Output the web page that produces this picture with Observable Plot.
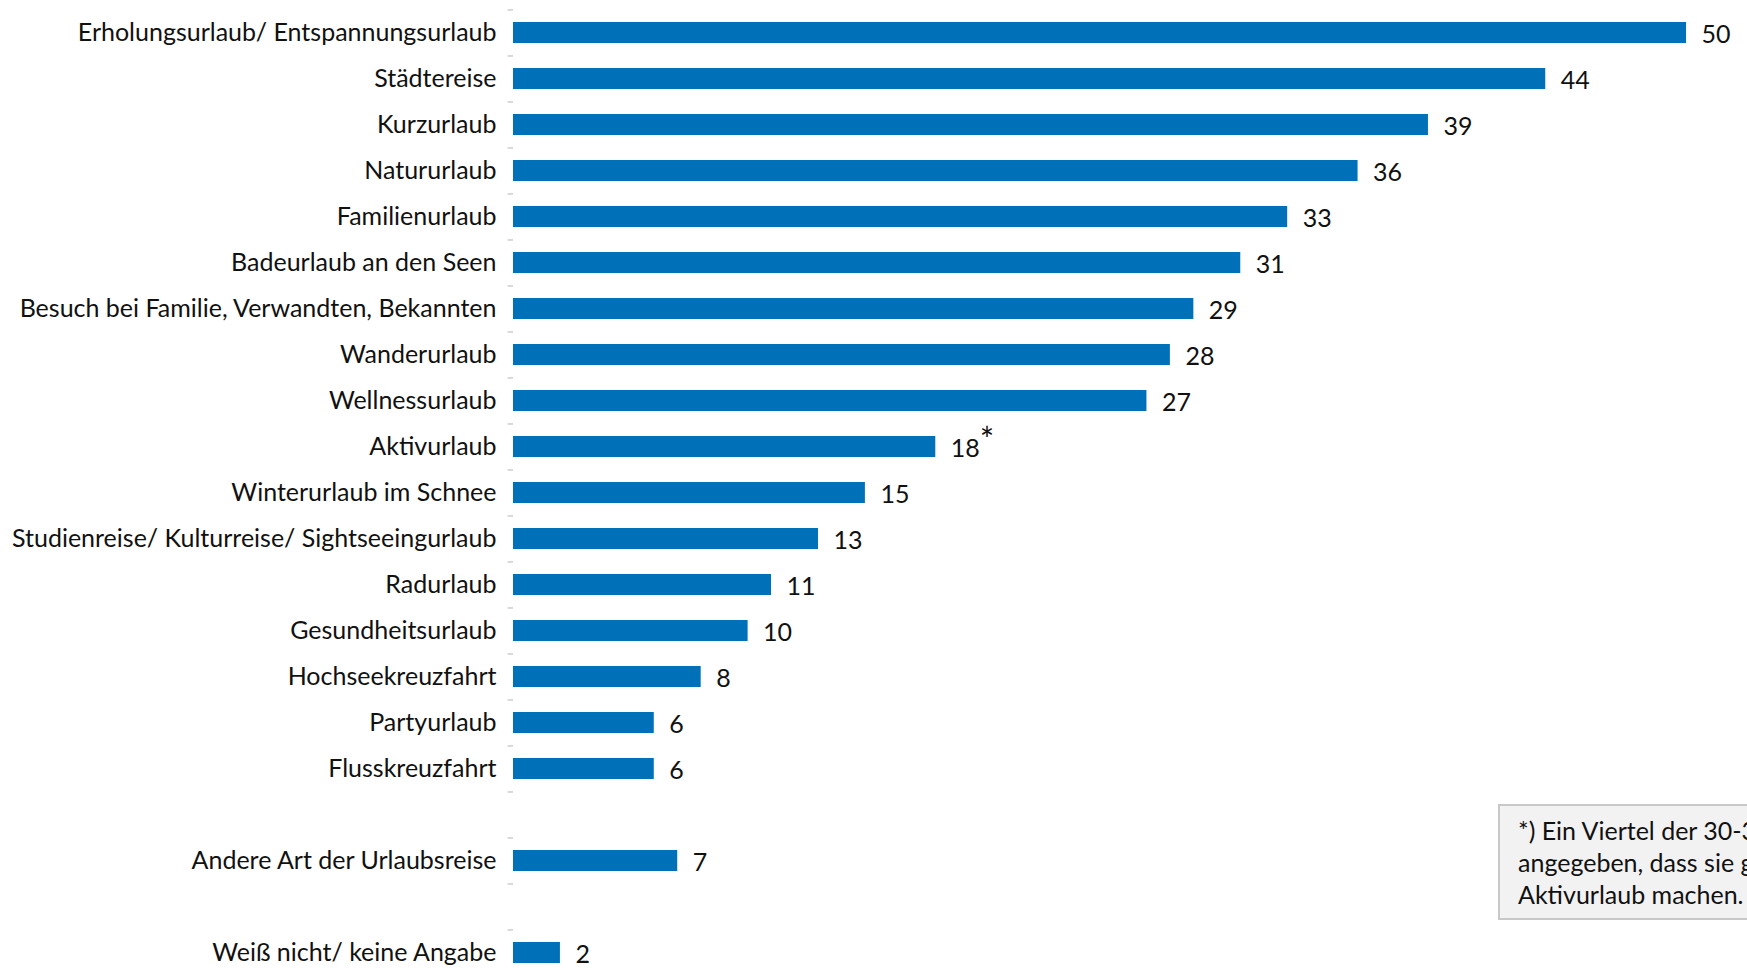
<!DOCTYPE html>
<html>
<head>
<meta charset="utf-8">
<script src="https://cdn.jsdelivr.net/npm/d3@7"></script>
<script src="https://cdn.jsdelivr.net/npm/@observablehq/plot@0.6"></script>
<style>
  html, body { margin: 0; padding: 0; background: #fff; overflow: hidden; }
  #wrap { position: relative; width: 1747px; height: 968px; overflow: hidden; }
  #note {
    position: absolute; left: 1498px; top: 804px; width: 420px; height: 116px;
    background: #f2f2f2; border: 2px solid #c8c8c8; box-sizing: border-box;
    font-family: Lato, sans-serif; font-size: 25px; line-height: 32px;
    color: #111; padding: 8px 0 0 18px; white-space: nowrap;
  }
</style>
</head>
<body>
<div id="wrap"><div id="note"></div></div>
<script>
const categories = [
  "Erholungsurlaub/ Entspannungsurlaub",
  "Städtereise",
  "Kurzurlaub",
  "Natururlaub",
  "Familienurlaub",
  "Badeurlaub an den Seen",
  "Besuch bei Familie, Verwandten, Bekannten",
  "Wanderurlaub",
  "Wellnessurlaub",
  "Aktivurlaub",
  "Winterurlaub im Schnee",
  "Studienreise/ Kulturreise/ Sightseeingurlaub",
  "Radurlaub",
  "Gesundheitsurlaub",
  "Hochseekreuzfahrt",
  "Partyurlaub",
  "Flusskreuzfahrt",
  " ",
  "Andere Art der Urlaubsreise",
  "  ",
  "Weiß nicht/ keine Angabe"
];
const values = [50, 44, 39, 36, 33, 31, 29, 28, 27, 18, 15, 13, 11, 10, 8, 6, 6, null, 7, null, 2];
const starred = ["Aktivurlaub"];
const noteLines = [
  "*) Ein Viertel der 30-39-Jährigen hat",
  "angegeben, dass sie gerne einen",
  "Aktivurlaub machen."
];

const data = categories.map((c, i) => ({category: c, value: values[i]})).filter(d => d.value != null);
const starData = data.filter(d => starred.includes(d.category));

const W = 1747, H = 968;
const yTop = 8, yBottom = 977;
const step = (yBottom - yTop) / categories.length;
const font = "Lato, sans-serif";
const fs = 25;

const chart = Plot.plot({
  width: W,
  height: H,
  marginLeft: 512,
  marginRight: 0,
  marginTop: yTop,
  marginBottom: 0,
  style: {fontFamily: font, fontSize: fs + "px", color: "#111", background: "#fff"},
  x: {domain: [0, 50], range: [513, 1686], axis: null},
  y: {domain: categories, range: [yTop, yBottom], paddingInner: 0.54, paddingOuter: 0.27, axis: null},
  marks: [
    Plot.barX(data, {y: "category", x: "value", fill: "#0070b8"}),
    Plot.ruleX([0], {stroke: "#d9d9d9", strokeWidth: 2, y1: categories[0], y2: categories[categories.length - 1], insetTop: -step / 2, insetBottom: -step / 2}),
    Plot.ruleY(categories, {y: d => d, x1: -0.23, x2: 0, stroke: "#d9d9d9", strokeWidth: 2, dy: -step / 2}),
    Plot.axisY({tickSize: 0, tickPadding: 16, fontSize: fs, fill: "#111", label: null, tickFormat: d => d.trim()}),
    Plot.text(data, {y: "category", x: "value", text: d => String(d.value), dx: 15, dy: 2, textAnchor: "start", fontSize: fs, fill: "#111"}),
    Plot.text(starData, {y: "category", x: "value", text: () => "*", dx: 44, dy: -6, textAnchor: "start", fontSize: 34, fill: "#111"})
  ]
});
document.getElementById("wrap").prepend(chart);
document.getElementById("note").innerHTML = noteLines.join("<br>");
</script>
</body>
</html>
